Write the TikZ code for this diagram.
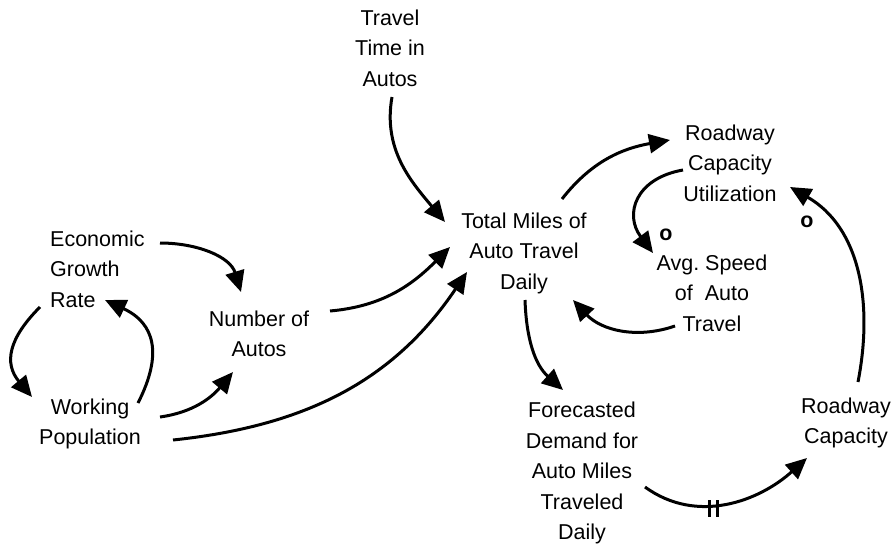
\documentclass[tikz,border=0pt]{standalone}
\usepackage{fontspec}
\setmainfont{Liberation Sans}
\usetikzlibrary{arrows.meta,calc}
\tikzset{
  lbl/.style={inner sep=0pt, align=center, font=\fontsize{21.5}{30.5}\selectfont},
  polmark/.style={inner sep=0pt, font=\fontsize{21.5}{30.5}\selectfont\bfseries},
  link/.style={line width=3pt, -{Triangle[length=21pt,width=19pt]}},
  delaybar/.style={line width=3pt}
}
\begin{document}
\frenchspacing
\begin{tikzpicture}[x=1pt,y=1pt]
\useasboundingbox (0,0) rectangle (895,-546);
% nodes
\node[lbl] (tt) at (390,-48) {Travel\\Time in\\Autos};
\node[lbl] (rcu) at (730,-163) {Roadway\\Capacity\\Utilization};
\node[lbl, align=left, anchor=west] (egr) at (50,-269) {Economic\\Growth\\Rate};
\node[lbl] (tot) at (524,-253) {Total Miles of\\Auto Travel\\Daily};
\node[lbl] (num) at (259,-334) {Number of\\Autos};
\node[lbl] (avg) at (712,-293) {Avg.\ Speed\\of\ \ Auto\\Travel};
\node[lbl] (wp) at (90,-424) {Working\\Population};
\node[lbl] (fd) at (582,-473) {Forecasted\\Demand for\\Auto Miles\\Traveled\\Daily};
\node[lbl] (rc) at (846,-423) {Roadway\\Capacity};
\node[polmark] (o1) at (666,-235) {o};
\node[polmark] (o2) at (807,-222) {o};
% connectors
\draw[link] ($(egr.west)+(110,26)$) to[out=0,in=107] ($(num)+(-18,42)$);
\draw[link] ($(egr.west)+(-10,-38)$) to[out=225,in=130,looseness=1.25] ($(wp)+(-58,27)$);
\draw[link] ($(wp)+(48,21)$) to[out=63,in=335,looseness=1.3] ($(egr.west)+(55,-31)$);
\draw[link] ($(wp)+(70,7)$) to[out=8,in=230] ($(num)+(-26,-38)$);
\draw[link] ($(wp)+(83,-16)$) to[out=6,in=236] ($(tot)+(-57,-19)$);
\draw[link] ($(num)+(71,23)$) to[out=5,in=225] ($(tot)+(-74,6)$);
\draw[link] ($(tt)+(2,-49)$) to[out=260,in=130] ($(tot)+(-79,31)$);
\draw[link] ($(tot)+(38,54)$) to[out=52,in=190] ($(rcu)+(-60,23)$);
\draw[link] ($(rcu)+(-47,-7)$) to[out=190,in=127,looseness=1.4] ($(avg)+(-59,40)$);
\draw[link] ($(avg)+(-37,-33)$) to[out=199,in=313] ($(tot)+(49,-47)$);
\draw[link] ($(tot)+(1,-47)$) to[out=-88,in=138] ($(fd)+(-19,83)$);
\draw[link] ($(fd)+(63,-14)$) to[out=-36,in=222] ($(rc)+(-39,-35)$);
\draw[link] ($(rc)+(12,41)$) to[out=79,in=330] ($(rcu)+(60,-24)$);
% delay mark
\draw[delaybar] ($(fd)+(127,-27)$) -- ($(fd)+(127,-44)$);
\draw[delaybar] ($(fd)+(135,-27)$) -- ($(fd)+(135,-44)$);
\end{tikzpicture}
\end{document}
